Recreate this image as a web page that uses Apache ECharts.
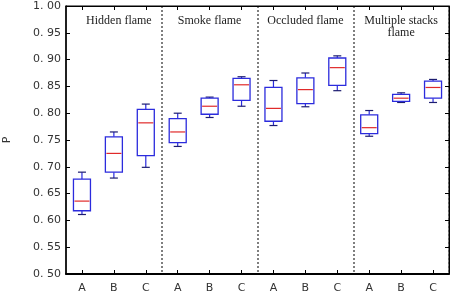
<!DOCTYPE html>
<html><head><meta charset="utf-8">
<script src="https://cdn.jsdelivr.net/npm/echarts@6/dist/echarts.min.js"></script>
<style>html,body{margin:0;padding:0;background:#fff}#c{width:453px;height:306px}</style>
</head><body><div id="c"></div>
<script>
const categories = ['A','B','C','A','B','C','A','B','C','A','B','C'];
const groupTitles = ['Hidden flame','Smoke flame','Occluded flame','Multiple stacks\nflame'];
const whiskerLow  = [0.611,0.679,0.699, 0.738,0.792,0.813, 0.777,0.812,0.842, 0.757,0.820,0.820];
const q1          = [0.618,0.690,0.721, 0.745,0.798,0.824, 0.785,0.818,0.852, 0.762,0.822,0.828];
const median      = [0.636,0.725,0.782, 0.765,0.813,0.853, 0.809,0.844,0.885, 0.773,0.828,0.848];
const q3          = [0.677,0.756,0.807, 0.790,0.828,0.865, 0.848,0.866,0.903, 0.797,0.835,0.860];
const whiskerHigh = [0.690,0.765,0.817, 0.800,0.830,0.868, 0.861,0.875,0.907, 0.805,0.838,0.863];
const yTicks = [0.50,0.55,0.60,0.65,0.70,0.75,0.80,0.85,0.90,0.95,1.00];

const data = categories.map((c,i)=>[i, whiskerLow[i], q1[i], median[i], q3[i], whiskerHigh[i]]);
const chart = echarts.init(document.getElementById('c'));
const boxW = 17, capW = 8;
function renderItem(params, api){
  const i = api.value(0);
  const pLo = api.coord([i, api.value(1)]);
  const pQ1 = api.coord([i, api.value(2)]);
  const pMd = api.coord([i, api.value(3)]);
  const pQ3 = api.coord([i, api.value(4)]);
  const pHi = api.coord([i, api.value(5)]);
  const x = pQ1[0];
  const blue = '#2b2bdd', navy = '#1c1c70', red = '#e02a2a';
  return {type:'group', children:[
    {type:'line', shape:{x1:x,y1:pQ3[1],x2:x,y2:pHi[1]}, style:{stroke:blue,lineWidth:1.2}},
    {type:'line', shape:{x1:x,y1:pQ1[1],x2:x,y2:pLo[1]}, style:{stroke:blue,lineWidth:1.2}},
    {type:'line', shape:{x1:x-capW/2,y1:pHi[1],x2:x+capW/2,y2:pHi[1]}, style:{stroke:navy,lineWidth:1.2}},
    {type:'line', shape:{x1:x-capW/2,y1:pLo[1],x2:x+capW/2,y2:pLo[1]}, style:{stroke:navy,lineWidth:1.2}},
    {type:'rect', shape:{x:x-boxW/2,y:pQ3[1],width:boxW,height:pQ1[1]-pQ3[1]}, style:{fill:'#fff',stroke:blue,lineWidth:1.3}},
    {type:'line', shape:{x1:x-boxW/2+1,y1:pMd[1],x2:x+boxW/2-1,y2:pMd[1]}, style:{stroke:red,lineWidth:1.2}}
  ]};
}
const labelStyle = {color:'#333', fontFamily:'DejaVu Sans, sans-serif', fontSize:11};
chart.setOption({
  animation:false,
  grid:{left:66, right:4, top:6, bottom:32, show:true, borderColor:'#000', borderWidth:1, outerBoundsMode:'none', containLabel:false},
  xAxis:[
    {type:'category', data:categories, position:'bottom',
     axisLine:{show:true, lineStyle:{color:'#000', width:2}},
     axisTick:{show:true, inside:true, alignWithLabel:true, length:4, lineStyle:{color:'#000'}},
     axisLabel:Object.assign({margin:9}, labelStyle),
     splitLine:{show:true, interval:function(idx){return idx===3||idx===6||idx===9;}, lineStyle:{color:'#555', type:[2,2], width:1.5}}},
    {type:'category', data:categories, position:'top',
     axisLine:{show:true, lineStyle:{color:'#000', width:1}},
     axisTick:{show:true, inside:true, alignWithLabel:true, length:4, lineStyle:{color:'#000'}},
     axisLabel:{show:false}, splitLine:{show:false}}
  ],
  yAxis:[
    {type:'value', min:yTicks[0], max:yTicks[yTicks.length-1], interval:0.05, position:'left',
     name:'P', nameLocation:'middle', nameGap:53, nameRotate:90,
     nameTextStyle:{color:'#333', fontFamily:'DejaVu Sans, sans-serif', fontSize:11},
     axisLine:{show:true, lineStyle:{color:'#000', width:1.5}},
     axisTick:{show:true, inside:true, length:4, lineStyle:{color:'#000'}},
     axisLabel:Object.assign({margin:5, formatter:v=>v.toFixed(2).replace('.', '. ')}, labelStyle),
     splitLine:{show:false}},
    {type:'value', min:yTicks[0], max:yTicks[yTicks.length-1], interval:0.05, position:'right',
     axisLine:{show:true, lineStyle:{color:'#000', width:1}},
     axisTick:{show:true, inside:true, length:4, lineStyle:{color:'#000'}},
     axisLabel:{show:false}, splitLine:{show:false}}
  ],
  series:[{type:'custom', renderItem:renderItem, data:data, xAxisIndex:0, yAxisIndex:0, encode:{x:0,y:[1,2,3,4,5]}}]
});
chart.setOption({graphic: groupTitles.map((t,g)=>{
  const px = chart.convertToPixel({xAxisIndex:0}, g*3+1);
  return {type:'text', x: px + (g===0?5:0), y: 15, style:{text:t, textAlign:'center', textVerticalAlign:'top', fill:'#222', font:'12px "Liberation Serif", "Times New Roman", serif', lineHeight:12}};
})});
</script></body></html>
